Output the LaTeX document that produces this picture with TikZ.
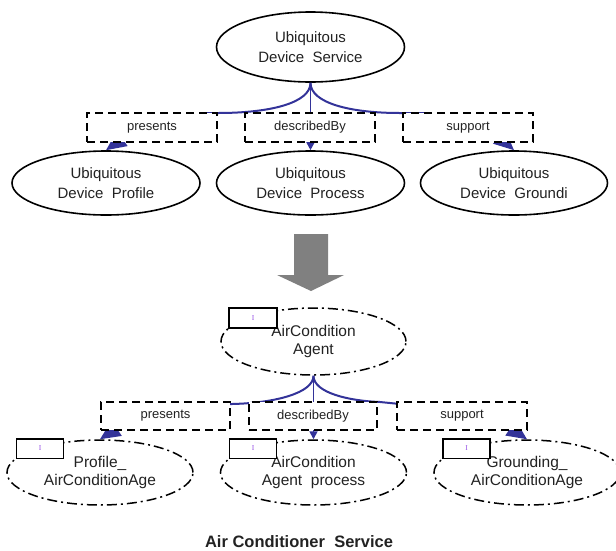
\documentclass[tikz,border=0pt]{standalone}
\usepackage{fontspec}
\setmainfont{Liberation Sans}
\newfontfamily\serifmark{Liberation Serif}
\usetikzlibrary{shapes.geometric,arrows.meta}
\definecolor{conn}{RGB}{51,51,153}
\definecolor{txt}{RGB}{34,34,34}
\definecolor{mk}{RGB}{150,80,230}
\definecolor{bigarrow}{RGB}{128,128,128}
\begin{document}
\begin{tikzpicture}[x=1pt,y=-1pt,
  solidell/.style={ellipse,draw=black,line width=1.6pt,fill=white,inner sep=0pt,align=center,text=txt,font=\fontsize{15}{20}\selectfont},
  dashell/.style={ellipse,draw=black,line width=1.5pt,dash pattern=on 10pt off 4pt on 2pt off 4pt,fill=white,inner sep=0pt,align=center,text=txt,font=\fontsize{15.5}{18.5}\selectfont},
  relbox/.style={rectangle,draw=black,line width=1.7pt,dash pattern=on 8pt off 5pt,fill=white,inner sep=0pt,minimum height=29pt,text=txt,font=\fontsize{13}{15}\selectfont},
  tagbox/.style={rectangle,draw=black,line width=1.5pt,fill=white,minimum width=47pt,minimum height=19.5pt,inner sep=0pt,text=mk,font=\serifmark\fontsize{7.5}{7.5}\selectfont},
  wire/.style={draw=conn,line width=2pt,line join=round},
  midwire/.style={draw=conn,line width=1.7pt},
  bigtip/.style={-{Triangle[length=20pt,width=18pt]}},
  smalltip/.style={-{Triangle[length=8pt,width=8pt]}}
]
\useasboundingbox (0,0) rectangle (616,550);

% ---------- upper ontology ----------
\node[solidell,minimum width=188pt,minimum height=70pt] (svc) at (310.5,47) {Ubiquitous\\Device\ \ Service};
\node[solidell,minimum width=188pt,minimum height=64pt] (prof) at (106,183) {Ubiquitous\\Device\ \ Profile};
\node[solidell,minimum width=188pt,minimum height=64pt] (proc) at (310.5,183) {Ubiquitous\\Device\ \ Process};
\node[solidell,minimum width=187pt,minimum height=64pt] (grnd) at (514,183) {Ubiquitous\\Device\ \ Groundi};

\coordinate (ul1) at (218,113);
\coordinate (ul2) at (203,113);
\coordinate (ul3) at (130,133);
\coordinate (ur1) at (400,113);
\coordinate (ur2) at (428,113);
\coordinate (ur3) at (495,133);

\draw[wire,bigtip] (svc.south) .. controls (310.5,103) and (270,113) .. (ul1) -- (ul2) -- (ul3) -- (prof.north);
\draw[wire,bigtip] (svc.south) .. controls (310.5,103) and (350,113) .. (ur1) -- (ur2) -- (ur3) -- (grnd.north);
\draw[midwire,smalltip] (svc.south) -- (proc.north);

\node[relbox,minimum width=130pt] (b1) at (152,127.5) {presents};
\node[relbox,minimum width=130pt] (b2) at (310,127.5) {describedBy};
\node[relbox,minimum width=130pt] (b3) at (468,127.5) {support};

% ---------- big arrow ----------
\fill[bigarrow] (294,234) -- (328,234) -- (328,275) -- (344,275) -- (311,291) -- (277,275) -- (294,275) -- cycle;

% ---------- lower instance ----------
\node[dashell,minimum width=185pt,minimum height=67pt] (agent) at (313.5,341.5) {AirCondition\\Agent};
\node[dashell,minimum width=186pt,minimum height=65pt] (p2) at (100,472.5) {Profile\_\\AirConditionAge};
\node[dashell,minimum width=186pt,minimum height=65pt] (q2) at (313.5,472.5) {AirCondition\\Agent\ \ process};
\node[dashell,minimum width=186pt,minimum height=65pt] (g2) at (527,472.5) {Grounding\_\\AirConditionAge};

\coordinate (ll1) at (232,404);
\coordinate (ll2) at (215,404);
\coordinate (ll3) at (126,422);
\coordinate (lr1) at (380,402);
\coordinate (lr2) at (400,404);
\coordinate (lr3) at (499,420);

\draw[wire,bigtip] (agent.south) .. controls (313.5,393) and (275,403) .. (ll1) -- (ll2) -- (ll3) -- (p2.north);
\draw[wire,bigtip] (agent.south) .. controls (313.5,393) and (350,401) .. (lr1) -- (lr2) -- (lr3) -- (g2.north);
\draw[midwire,smalltip] (agent.south) -- (q2.north);

\node[relbox,minimum width=129pt,minimum height=28pt] (c1) at (165.5,416) {presents};
\node[relbox,minimum width=128pt,minimum height=28pt] (c2) at (313,416) {describedBy};
\node[relbox,minimum width=130pt,minimum height=28pt] (c3) at (462,416) {support};

\node[tagbox,minimum width=48pt,minimum height=20pt] (t0) at (253,318) {I};
\node[tagbox] (t1) at (40,448.5) {I};
\node[tagbox] (t2) at (253,448.5) {I};
\node[tagbox] (t3) at (466.5,448.5) {I};

\node[font=\bfseries\fontsize{16.5}{18}\selectfont,text=txt,anchor=base] (cap) at (299,547) {Air Conditioner\ \ Service};
\end{tikzpicture}
\end{document}
